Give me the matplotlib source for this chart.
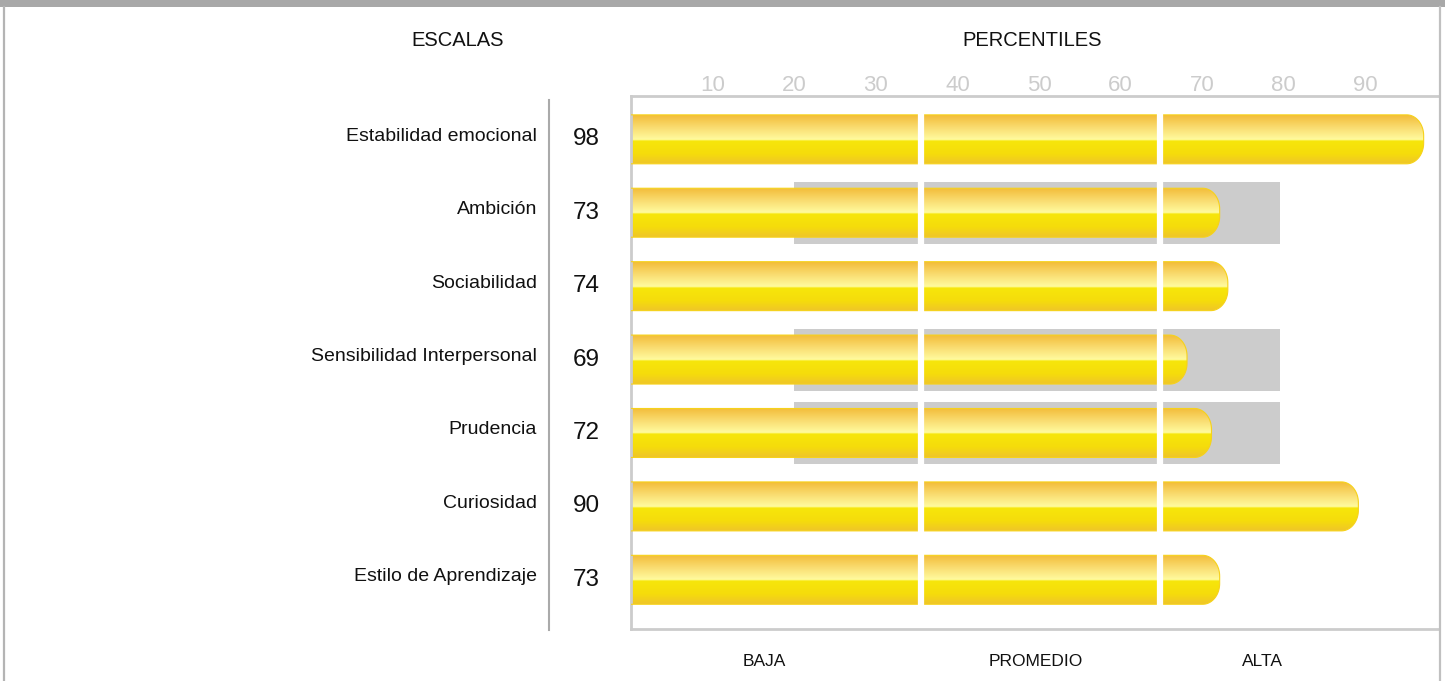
import numpy as np
import matplotlib
matplotlib.use("Agg")
import matplotlib.pyplot as plt
import matplotlib.transforms as mtransforms
from matplotlib.path import Path
from matplotlib.patches import PathPatch, Rectangle
from matplotlib.colors import LinearSegmentedColormap
from matplotlib.lines import Line2D

plt.rcParams["font.family"] = ["Liberation Sans", "DejaVu Sans"]

escalas = ["Estabilidad emocional", "Ambición", "Sociabilidad", "Sensibilidad Interpersonal",
           "Prudencia", "Curiosidad", "Estilo de Aprendizaje"]
percentil = [98, 73, 74, 69, 72, 90, 73]
# reference range (grey band), None where there is none
rango_bajo = [None, 20, None, 20, 20, None, None]
rango_alto = [None, 79.5, None, 79.5, 79.5, None, None]
ticks = [10, 20, 30, 40, 50, 60, 70, 80, 90]
cortes = [35.6, 64.8]
niveles = ["BAJA", "PROMEDIO", "ALTA"]
niveles_x = [16.3, 49.6, 77.4]

W, H, DPI = 1445, 681, 100
fig = plt.figure(figsize=(W / DPI, H / DPI), dpi=DPI)

# axes box in pixels: left 631, right 1438, top 96, bottom 629
ax = fig.add_axes([631 / W, (H - 629) / H, (1438 - 631) / W, (629 - 96) / H])

for s in ["left", "top", "bottom"]:
    ax.spines[s].set_color("#cccccc")
    ax.spines[s].set_linewidth(2)
ax.spines["right"].set_visible(False)

ax.xaxis.tick_top()
ax.set_xticks(ticks)
ax.set_xticklabels([str(t) for t in ticks], fontsize=16, color="#cccccc")
ax.tick_params(axis="x", length=0, pad=0)
ax.set_yticks([])

bar_h = 0.667
band_h = 0.845
rx = 17 / 8.15
ry = bar_h / 2 * 0.85

grad = LinearSegmentedColormap.from_list("oro", [
    (0.0, "#f3bd3a"), (0.25, "#f9dc70"), (0.5, "#fffb9f"),
    (0.53, "#f7e60a"), (0.8, "#f5dc0c"), (1.0, "#efc52a")])
gimg = np.linspace(0, 1, 200).reshape(-1, 1)

shift = ax.transData + mtransforms.ScaledTranslation(-7 / DPI, 0, fig.dpi_scale_trans)
lbl_tr = mtransforms.blended_transform_factory(fig.transFigure, ax.transData)
lbl_up = lbl_tr + mtransforms.ScaledTranslation(0, 3 / DPI, fig.dpi_scale_trans)

for i, v in enumerate(percentil):
    if rango_bajo[i] is not None:
        ax.add_patch(Rectangle((rango_bajo[i], i - band_h / 2), rango_alto[i] - rango_bajo[i], band_h,
                               facecolor="#cccccc", edgecolor="none", zorder=1))

    top, bot = i - bar_h / 2, i + bar_h / 2
    t = np.linspace(0, np.pi / 2, 24)
    pts = [(-2, top), (v - rx, top)]
    pts += [(v - rx + rx * np.sin(a), top + ry - ry * np.cos(a)) for a in t]
    pts += [(v - rx + rx * np.cos(a), bot - ry + ry * np.sin(a)) for a in t]
    pts += [(v - rx, bot), (-2, bot), (-2, top)]
    path = Path(pts)
    im = ax.imshow(gimg, cmap=grad, aspect="auto", extent=(-2, v, bot, top),
                   interpolation="bilinear", zorder=2, transform=shift)
    clip = PathPatch(path, transform=shift, facecolor="none", edgecolor="none")
    ax.add_patch(clip)
    im.set_clip_path(clip)
    ax.add_patch(PathPatch(path, transform=shift, facecolor="none", edgecolor="#f6d21a",
                           linewidth=0.8, zorder=3))

    ax.text(537 / W, i, escalas[i], transform=lbl_up, ha="right", va="center",
            fontsize=14, color="#111111", clip_on=False)
    ax.text(586 / W, i, str(v), transform=lbl_tr, ha="center", va="center",
            fontsize=17.5, color="#111111", clip_on=False)

for c in cortes:
    ax.axvline(c, ymin=0.03, ymax=0.97, color="white", linewidth=4.5, zorder=4)

ax.set_xlim(0, 98.9)
ax.set_ylim(6.67, -0.59)

nivel_tr = mtransforms.blended_transform_factory(ax.transData, fig.transFigure)
for n, x in zip(niveles, niveles_x):
    ax.text(x, (H - 661) / H, n, transform=nivel_tr, ha="center", va="center",
            fontsize=12.5, color="#111111", clip_on=False)

fig.text(458 / W, (H - 40) / H, "ESCALAS", ha="center", va="center", fontsize=14.5, color="#111111")
fig.text(1032 / W, (H - 40) / H, "PERCENTILES", ha="center", va="center", fontsize=14.5, color="#111111")

# frame decorations
fig.add_artist(Rectangle((0, (H - 7) / H), 1, 7 / H, transform=fig.transFigure,
                         facecolor="#a8a8a8", edgecolor="none"))
fig.add_artist(Line2D([4 / W, 4 / W], [0, (H - 7) / H], transform=fig.transFigure,
                      color="#b4b4b4", linewidth=1.6))
fig.add_artist(Line2D([1440 / W, 1440 / W], [0, (H - 7) / H], transform=fig.transFigure,
                      color="#c0c0c0", linewidth=1.6))
fig.add_artist(Line2D([549 / W, 549 / W], [(H - 630) / H, (H - 100) / H], transform=fig.transFigure,
                      color="#aaaaaa", linewidth=1.5))

fig.savefig("out.png", dpi=DPI)
